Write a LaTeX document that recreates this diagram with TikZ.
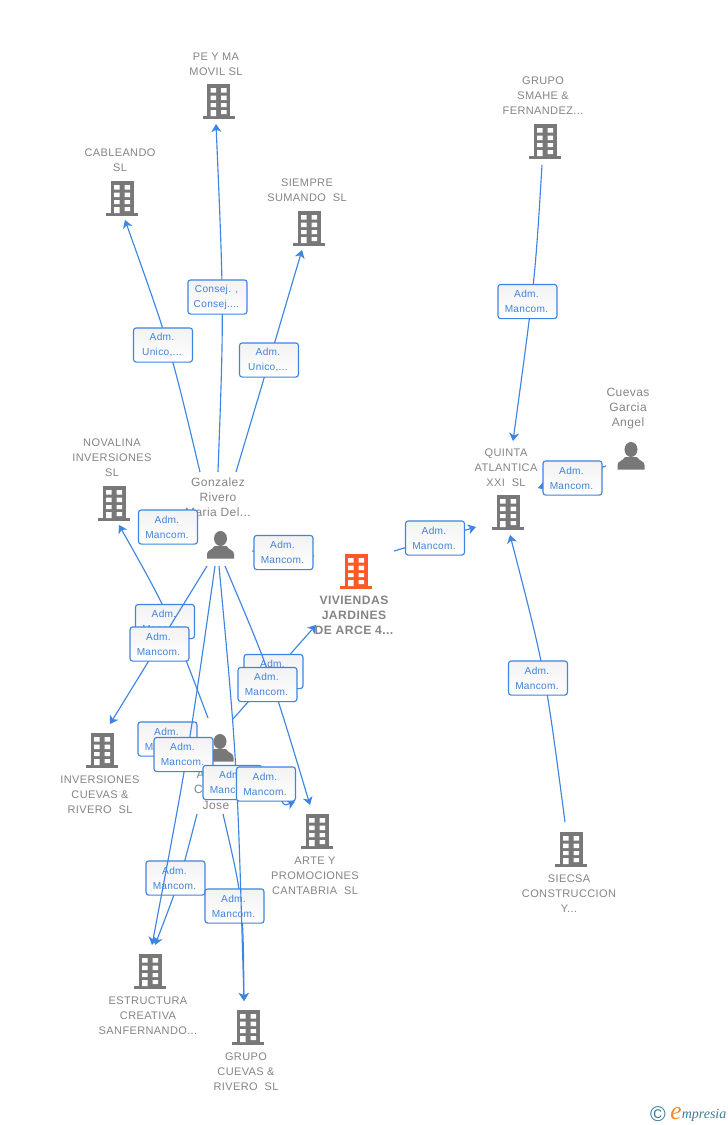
\documentclass[tikz,border=0pt]{standalone}
\usepackage{fontspec}
\usetikzlibrary{arrows.meta}
\setmainfont{Liberation Sans}
\newfontfamily\lblf[LetterSpace=3.5]{Liberation Sans}
\newfontfamily\boxf[LetterSpace=3]{Liberation Sans}
\newfontfamily\logof{Liberation Serif}
\definecolor{icongray}{HTML}{787878}
\definecolor{txtgray}{HTML}{858585}
\definecolor{linkblue}{HTML}{3C85E2}
\definecolor{boxtxt}{HTML}{3F82DC}
\definecolor{mainorange}{HTML}{FF5A26}
\definecolor{logoblue}{HTML}{3F7C96}
\definecolor{logoorange}{HTML}{F08A24}
\tikzset{
  x=0.75pt,y=-0.75pt,
  edge/.style={draw=linkblue,line width=0.85pt,-{Stealth[length=6pt,width=7.5pt,inset=1.8pt]}},
  plain/.style={draw=linkblue,line width=0.85pt},
  iconbox/.style={inner sep=0pt,minimum width=24pt,minimum height=25pt},
  comp/.style={align=center,inner sep=0pt,text=txtgray,font=\lblf\fontsize{8.25}{11.25}\selectfont},
  compmain/.style={align=center,inner sep=0pt,text=txtgray,font=\lblf\bfseries\fontsize{9.1}{11.25}\selectfont},
  pers/.style={align=center,inner sep=0pt,text=txtgray,font=\lblf\fontsize{9}{11.25}\selectfont},
  linkbox/.style={draw=linkblue,line width=0.85pt,rounded corners=2pt,top color=black!5,bottom color=white,
    minimum width=44.2pt,minimum height=25.6pt,inner sep=0pt,align=center,text=boxtxt,font=\boxf\fontsize{7.6}{11.25}\selectfont},
}
\newcommand{\bldg}[4][icongray]{%
  \node[iconbox] (#2) at (#3,#4) {};
  \begin{scope}[shift={(#3,#4)}]
    \fill[#1] (-11.5,-17) rectangle (11.5,15);
    \fill[#1] (-16,15) rectangle (16,17.5);
    \fill[white] (-8,-13) rectangle (-2.5,-8.5) (2.5,-13) rectangle (8,-8.5)
      (-8,-5.5) rectangle (-2.5,-1) (2.5,-5.5) rectangle (8,-1)
      (-8,2) rectangle (-2.5,6) (2.5,2) rectangle (8,6)
      (-8,9) rectangle (-2.5,15) (2.5,9) rectangle (8,13);
  \end{scope}}
\newcommand{\persn}[3]{%
  \node[iconbox] (#1) at (#2,#3) {};
  \begin{scope}[shift={(#2,#3)}]
    \fill[icongray] (0,-6.5) ellipse [x radius=6.5pt*0.75,y radius=7.5pt*0.75];
    \fill[icongray] (-13.5,13.5) -- (-13.5,9) .. controls (-13.5,5) and (-8,5) .. (-6,1)
       -- (6,1) .. controls (8,5) and (13.5,5) .. (13.5,9) -- (13.5,13.5) -- cycle;
  \end{scope}}
\newcommand{\edgebox}[5]{\node[linkbox] (#1) at (#2,#3) {#4\hspace*{1.5pt}\\#5\hspace*{1.5pt}};}
\begin{document}
\begin{tikzpicture}
\useasboundingbox (0,0) rectangle (728,1125);
\fill[white] (0,0) rectangle (728,1125);

% icons
\bldg{pema}{218.5}{101}
\bldg{cable}{122}{198}
\bldg{siempre}{309}{228}
\bldg{smahe}{545}{141}
\bldg{novalina}{114}{503}
\bldg[mainorange]{viviendas}{356}{571}
\bldg{quinta}{508}{512}
\bldg{inversiones}{102}{750}
\bldg{arte}{317}{831}
\bldg{siecsa}{571}{849}
\bldg{estructura}{150}{971}
\bldg{grupo}{248}{1027}
\persn{gonzalez}{220.5}{545}
\persn{jose}{220}{748}
\persn{cuevas}{631}{456}

% labels
\node[comp] (tpema) at (216,64.5) {PE Y MA\\MOVIL SL};
\node[comp] (tcable) at (120,160.5) {CABLEANDO\\SL};
\node[comp] (tsiempre) at (307,190.5) {SIEMPRE\\SUMANDO~~SL};
\node[comp] (tsmahe) at (543,96) {GRUPO\\SMAHE \&\\FERNANDEZ...};
\node[comp] (tnovalina) at (112,458) {NOVALINA\\INVERSIONES\\SL};
\node[pers] (tgonzalez) at (218,497) {Gonzalez\\Rivero\\Maria Del...};
\node[compmain] (tviviendas) at (354,615.5) {VIVIENDAS\\JARDINES\\DE ARCE 4...};
\node[pers] (tcuevas) at (628,408.5) {Cuevas\\Garcia\\Angel};
\node[comp] (tquinta) at (506,468) {QUINTA\\ATLANTICA\\XXI~~SL};
\node[comp] (tinversiones) at (100,795) {INVERSIONES\\CUEVAS \&\\RIVERO~~SL};
\node[comp] (tarte) at (315,876) {ARTE Y\\PROMOCIONES\\CANTABRIA~~SL};
\node[comp] (tsiecsa) at (569,894) {SIECSA\\CONSTRUCCION\\Y...};
\node[comp] (testructura) at (148,1016) {ESTRUCTURA\\CREATIVA\\SANFERNANDO...};
\node[comp] (tgrupo) at (246,1072) {GRUPO\\CUEVAS \&\\RIVERO~~SL};
\node[pers,anchor=east] (tjosea) at (205,774) {A};
\node[pers,anchor=east] (tjosec) at (203,789) {C};
\node[pers] (tjose) at (216,805) {Jose};

% free ends of connectors
\coordinate (gzN) at (218,472);
\coordinate (gzNW) at (200,472);
\coordinate (gzNE) at (236,472);
\coordinate (gzSW) at (207,566);
\coordinate (gzS1) at (215,566);
\coordinate (gzS2) at (219,566);
\coordinate (gzSE) at (225,566);
\coordinate (gzE) at (252,551);
\coordinate (joN) at (208,718);
\coordinate (joNE) at (233,719);
\coordinate (joSW) at (197,814);
\coordinate (joS) at (223,814);
\coordinate (joE) at (279,795);
\coordinate (toPema) at (216,124);
\coordinate (toCable) at (125,220);
\coordinate (toSiempre) at (302,250);
\coordinate (toNovalina) at (119,525);
\coordinate (toInver) at (110,724);
\coordinate (toVivW) at (316,625);
\coordinate (toVivN) at (314,556);
\coordinate (toArteA) at (310,805);
\coordinate (toArteB) at (295,801.5);
\coordinate (toEstrA) at (152,945);
\coordinate (toEstrB) at (155,945);
\coordinate (toGrupoA) at (244,1001);
\coordinate (toGrupoB) at (244,1001);
\coordinate (smS) at (542,165);
\coordinate (toQuN) at (513,441);
\coordinate (cuW) at (606,466);
\coordinate (toQuE) at (538,488);
\coordinate (viE) at (394,551);
\coordinate (toQuW) at (476,527);
\coordinate (siN) at (565,822);
\coordinate (toQuS) at (510,535);

% first layer: connectors and boxes lying below
\draw[edge] (gzN) .. controls (224,310) .. (toPema);
\draw[edge] (gzNW) .. controls (170,346) .. (toCable);
\draw[edge] (gzNE) .. controls (271,355) .. (toSiempre);
\draw[plain] (gzE) -- (toVivN);
\draw[edge] (joN) .. controls (168,612) .. (toNovalina);
\draw[edge] (joNE) -- (toVivW);
\draw[edge] (joSW) .. controls (180,880) .. (toEstrB);
\draw[edge] (joS) .. controls (243,900) .. (toGrupoB);
\draw[edge] (joE) .. controls (284,806) .. (toArteB);
\draw[edge] (smS) .. controls (535,280) .. (toQuN);
\draw[edge] (cuW) -- (toQuE);
\draw[edge] (viE) -- (toQuW);
\draw[edge] (siN) .. controls (545,670) .. (toQuS);

\edgebox{lPema}{217.5}{297}{Consej. ,}{Consej....}
\edgebox{lCable}{163}{345}{Adm.}{Unico,...}
\edgebox{lSiempre}{269}{360}{Adm.}{Unico,...}
\edgebox{lNov}{168}{527}{Adm.}{Mancom.}
\edgebox{lViv}{283.5}{552.5}{Adm.}{Mancom.}
\edgebox{lNov2}{165}{621.5}{Adm.}{Mancom.}
\edgebox{lViv2}{273.5}{671.5}{Adm.}{Mancom.}
\edgebox{lInv2}{167.5}{739}{Adm.}{Mancom.}
\edgebox{lEstr2}{175.5}{878}{Adm.}{Mancom.}
\edgebox{lGrupo2}{234.5}{906}{Adm.}{Mancom.}
\edgebox{lSmahe}{527.5}{301.5}{Adm.}{Mancom.}
\edgebox{lCuevas}{572.5}{478}{Adm.}{Mancom.}
\edgebox{lQuinta}{435}{538}{Adm.}{Mancom.}
\edgebox{lSiecsa}{538}{678}{Adm.}{Mancom.}

% second layer: connectors of the upper person, and their boxes
\draw[edge] (gzSW) -- (toInver);
\draw[edge] (gzSE) .. controls (270,672) .. (toArteA);
\draw[edge] (gzS1) .. controls (188,755) .. (toEstrA);
\draw[edge] (gzS2) .. controls (237,760) .. (toGrupoA);

\edgebox{lInv}{159.5}{644}{Adm.}{Mancom.}
\edgebox{lArte}{267.5}{684.5}{Adm.}{Mancom.}
\edgebox{lEstr}{183.5}{754.5}{Adm.}{Mancom.}
\edgebox{lGrupo}{232.5}{782.5}{Adm.}{Mancom.}
\edgebox{lArte2}{266}{784}{Adm.}{Mancom.}

% logo
\node[inner sep=0pt,text=logoblue,font=\fontsize{16}{16}\selectfont] (lc) at (658,1114) {©};
\node[inner sep=0pt,anchor=base west,text=logoorange,font=\logof\itshape\fontsize{19}{19}\selectfont] (le) at (670,1119) {e};
\node[inner sep=0pt,anchor=base west,text=logoblue,font=\logof\itshape\fontsize{10.5}{12}\selectfont] (lm) at (681.5,1118) {mpresia};
\end{tikzpicture}
\end{document}
